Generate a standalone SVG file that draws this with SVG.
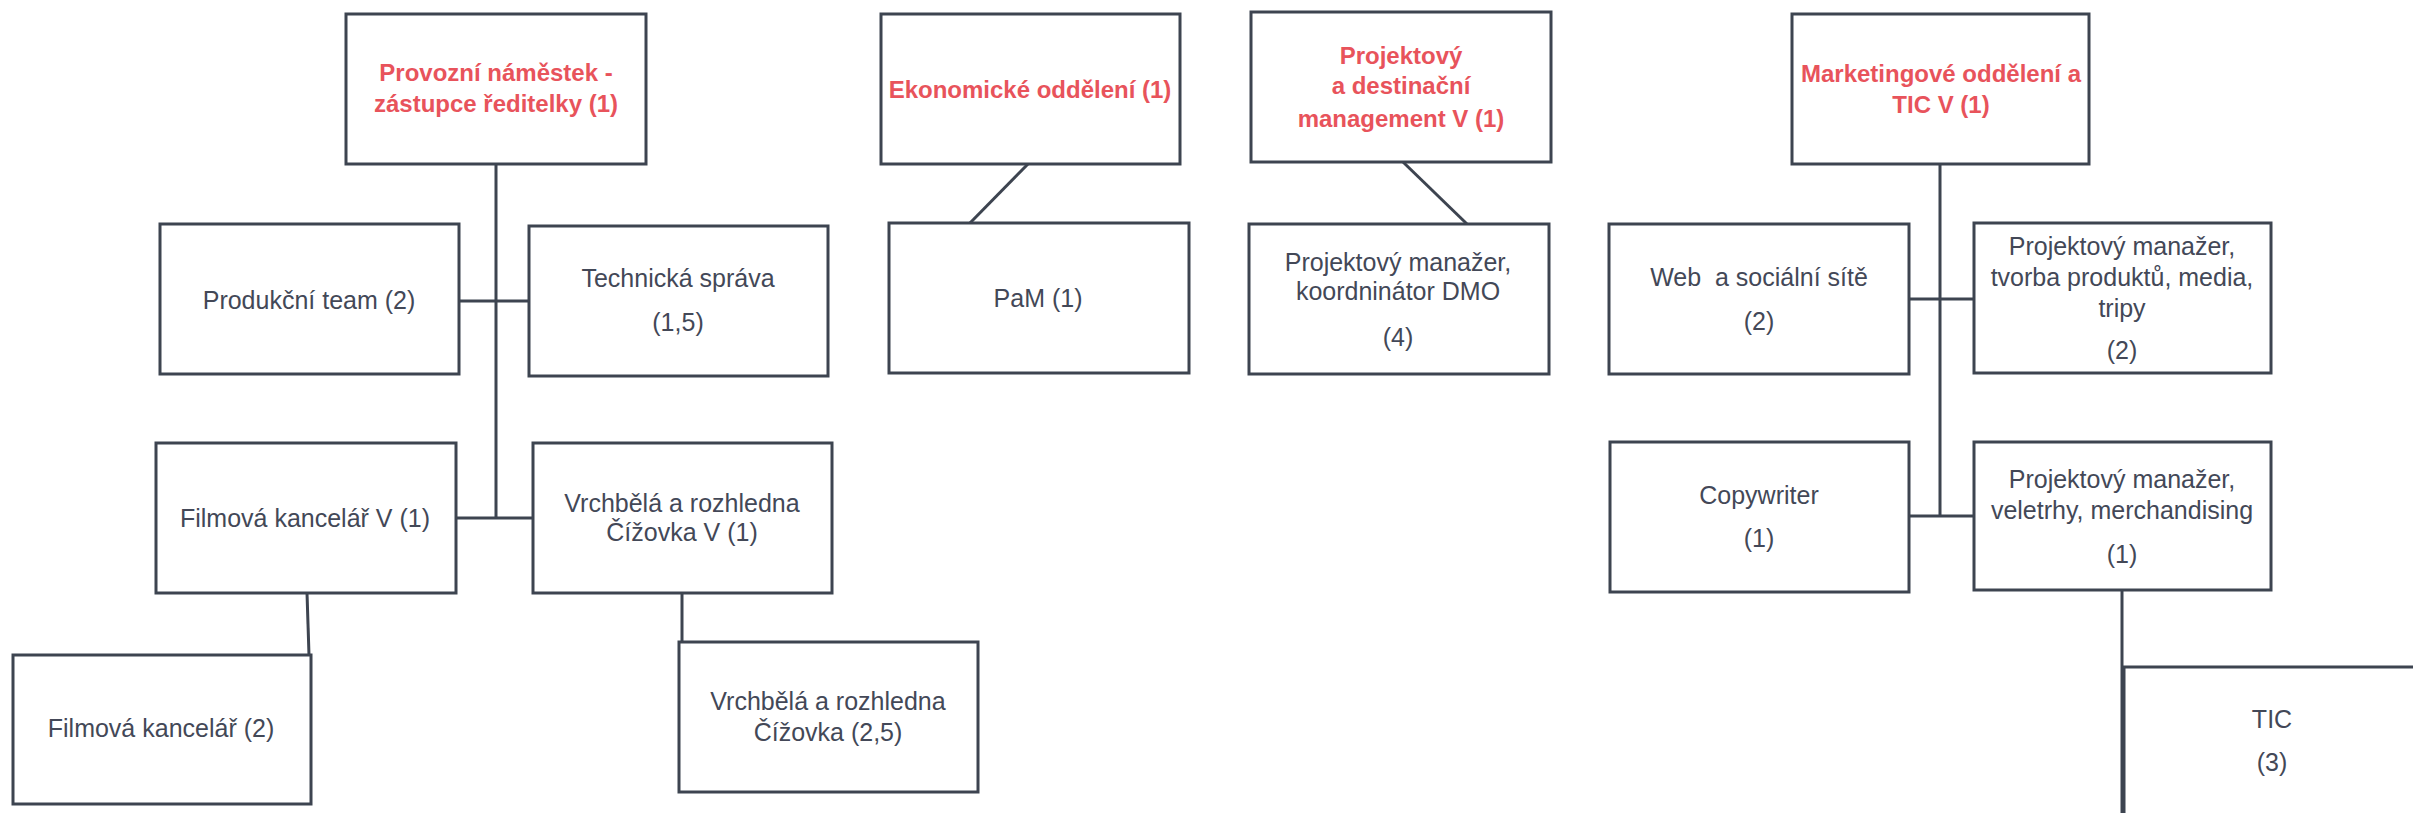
<svg xmlns="http://www.w3.org/2000/svg" width="2413" height="813" viewBox="0 0 2413 813">
<style>
.box{fill:#fff;stroke:#3d4450;stroke-width:3}
.con{fill:none;stroke:#3d4450;stroke-width:3}
.t{font-family:"Liberation Sans",Arial,sans-serif;font-size:25px;fill:#434857;text-anchor:middle;dominant-baseline:central;white-space:pre}
.h{font-family:"Liberation Sans",Arial,sans-serif;font-size:24px;font-weight:bold;fill:#e8535b;text-anchor:middle;dominant-baseline:central}
</style>
<rect width="2413" height="813" fill="#fff"/>
<g id="connectors">
<path class="con" d="M496 164V518"/>
<path class="con" d="M459 301H529"/>
<path class="con" d="M456 518H533"/>
<path class="con" d="M307 593L309 655"/>
<path class="con" d="M682 593V642"/>
<path class="con" d="M1028 164L970 223"/>
<path class="con" d="M1403 162L1467 224"/>
<path class="con" d="M1940 164V516"/>
<path class="con" d="M1909 299H1974"/>
<path class="con" d="M1909 516H1974"/>
<path class="con" d="M2122 590V813"/>
</g>
<g id="n-provozni"><rect class="box" x="346" y="14" width="300" height="150"/><text class="h" x="496" y="72">Provozní náměstek -</text><text class="h" x="496" y="103">zástupce ředitelky (1)</text></g>
<g id="n-produkcni"><rect class="box" x="160" y="224" width="299" height="150"/><text class="t" x="309" y="300">Produkční team (2)</text></g>
<g id="n-technicka"><rect class="box" x="529" y="226" width="299" height="150"/><text class="t" x="678" y="278">Technická správa</text><text class="t" x="678" y="322">(1,5)</text></g>
<g id="n-filmova-v"><rect class="box" x="156" y="443" width="300" height="150"/><text class="t" x="305" y="518">Filmová kancelář V (1)</text></g>
<g id="n-vrchbela-v"><rect class="box" x="533" y="443" width="299" height="150"/><text class="t" x="682" y="503">Vrchbělá a rozhledna</text><text class="t" x="682" y="532">Čížovka V (1)</text></g>
<g id="n-filmova"><rect class="box" x="13" y="655" width="298" height="149"/><text class="t" x="161" y="728">Filmová kancelář (2)</text></g>
<g id="n-vrchbela"><rect class="box" x="679" y="642" width="299" height="150"/><text class="t" x="828" y="701">Vrchbělá a rozhledna</text><text class="t" x="828" y="732">Čížovka (2,5)</text></g>
<g id="n-ekonomicke"><rect class="box" x="881" y="14" width="299" height="150"/><text class="h" x="1030" y="89">Ekonomické oddělení (1)</text></g>
<g id="n-pam"><rect class="box" x="889" y="223" width="300" height="150"/><text class="t" x="1038" y="298">PaM (1)</text></g>
<g id="n-projektovy"><rect class="box" x="1251" y="12" width="300" height="150"/><text class="h" x="1401" y="55">Projektový</text><text class="h" x="1401" y="85">a destinační</text><text class="h" x="1401" y="118">management V (1)</text></g>
<g id="n-dmo"><rect class="box" x="1249" y="224" width="300" height="150"/><text class="t" x="1398" y="262">Projektový manažer,</text><text class="t" x="1398" y="291">koordninátor DMO</text><text class="t" x="1398" y="337">(4)</text></g>
<g id="n-marketing"><rect class="box" x="1792" y="14" width="297" height="150"/><text class="h" x="1941" y="73">Marketingové oddělení a</text><text class="h" x="1941" y="104">TIC V (1)</text></g>
<g id="n-web"><rect class="box" x="1609" y="224" width="300" height="150"/><text class="t" x="1759" y="277">Web  a sociální sítě</text><text class="t" x="1759" y="321">(2)</text></g>
<g id="n-tvorba"><rect class="box" x="1974" y="223" width="297" height="150"/><text class="t" x="2122" y="246">Projektový manažer,</text><text class="t" x="2122" y="277">tvorba produktů, media,</text><text class="t" x="2122" y="308">tripy</text><text class="t" x="2122" y="350">(2)</text></g>
<g id="n-copywriter"><rect class="box" x="1610" y="442" width="299" height="150"/><text class="t" x="1759" y="495">Copywriter</text><text class="t" x="1759" y="538">(1)</text></g>
<g id="n-veletrhy"><rect class="box" x="1974" y="442" width="297" height="148"/><text class="t" x="2122" y="479">Projektový manažer,</text><text class="t" x="2122" y="510">veletrhy, merchandising</text><text class="t" x="2122" y="554">(1)</text></g>
<g id="n-tic"><rect class="box" x="2124" y="667" width="400" height="300"/><text class="t" x="2272" y="719">TIC</text><text class="t" x="2272" y="762">(3)</text></g>
</svg>
